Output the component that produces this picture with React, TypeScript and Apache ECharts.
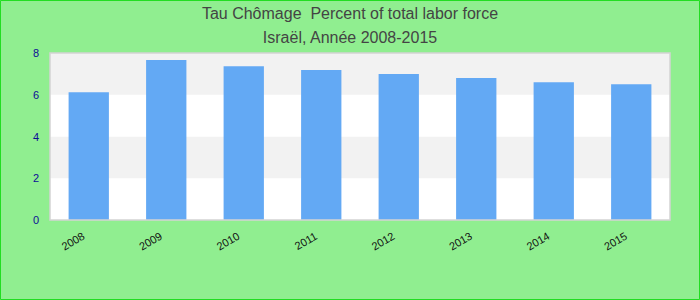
import React, { useEffect, useRef } from "react";
import * as echarts from "echarts";

const years = ["2008", "2009", "2010", "2011", "2012", "2013", "2014", "2015"];
const unemployment = [6.12, 7.66, 7.37, 7.18, 6.99, 6.8, 6.6, 6.5];
const titleLines = ["Tau Chômage  Percent of total labor force", "Israël, Année 2008-2015"];

export default function App() {
  const ref = useRef<HTMLDivElement>(null);
  useEffect(() => {
    if (!ref.current) return;
    const chart = echarts.init(ref.current, null, { renderer: "svg" });
    chart.setOption({
      animation: false,
      backgroundColor: "#90EE90",
      textStyle: { fontFamily: "Liberation Sans, Arial, sans-serif" },
      title: {
        text: titleLines.join("\n"),
        left: "center",
        top: -4,
        textStyle: {
          fontSize: 16,
          fontWeight: "normal",
          color: "#444",
          lineHeight: 24,
          fontFamily: "Liberation Sans, Arial, sans-serif",
        },
      },
      graphic: [
        {
          type: "rect",
          shape: { x: 0.5, y: 0.5, width: 699, height: 299 },
          style: { fill: "none", stroke: "#22dd22", lineWidth: 1 },
          silent: true,
          z: 100,
        },
        {
          type: "rect",
          shape: { x: 50, y: 53, width: 620, height: 167 },
          style: { fill: "none", stroke: "#d4d4d4", lineWidth: 1.5 },
          silent: true,
          z: 100,
        },
      ],
      grid: {
        left: 50,
        right: 30,
        top: 53,
        bottom: 80,
        show: true,
        backgroundColor: "#ffffff",
        borderWidth: 0,
      },
      xAxis: {
        type: "category",
        data: years,
        axisLine: { show: false },
        axisTick: { show: false },
        axisLabel: {
          rotate: 30,
          fontSize: 11,
          color: "#111",
          margin: 12,
          padding: [0, 6, 0, 0],
          interval: 0,
        },
      },
      yAxis: {
        type: "value",
        min: 0,
        max: 8,
        interval: 2,
        axisLine: { show: false },
        axisTick: { show: false },
        splitLine: { show: false },
        splitArea: { show: true, areaStyle: { color: ["#ffffff", "#f2f2f2"] } },
        axisLabel: { fontSize: 11, color: "#0c0c96", margin: 11 },
      },
      series: [
        {
          type: "bar",
          data: unemployment,
          barWidth: "52%",
          itemStyle: { color: "#63a9f4" },
        },
      ],
    });
    return () => chart.dispose();
  }, []);
  return (
    <div
      ref={ref}
      style={{ position: "fixed", left: 0, top: 0, width: 700, height: 300 }}
    />
  );
}
